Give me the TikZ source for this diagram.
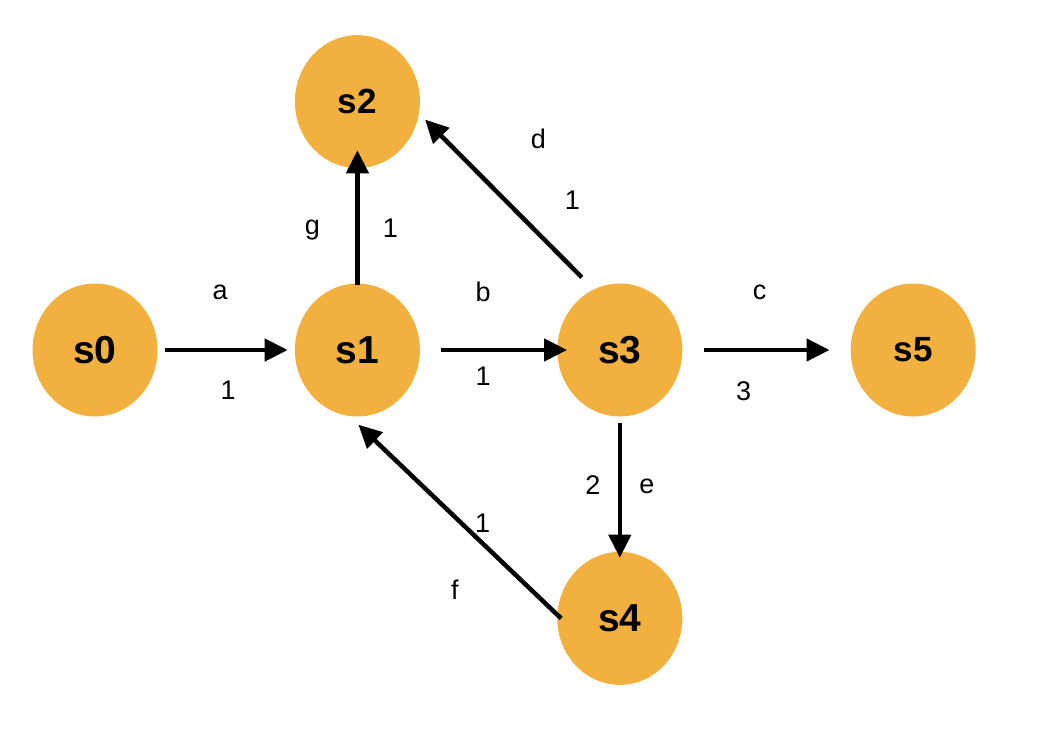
\documentclass[tikz,border=0pt]{standalone}
\usepackage{fontspec}
\setmainfont{Liberation Sans}
\usepackage{tikz}
\usetikzlibrary{shapes.geometric, arrows.meta, positioning, calc}
\definecolor{stOrange}{HTML}{F2B13F}
\tikzset{
  stnode/.style={ellipse, fill=stOrange, draw=none, inner sep=0pt,
                 minimum width=125pt, minimum height=133pt,
                 font=\fontsize{39}{43}\selectfont\bfseries},
  stsmall/.style={font=\fontsize{35}{39}\selectfont\bfseries},
  stflow/.style={-{Triangle[length=23pt, width=22pt]}, line width=4.5pt, color=black},
  stlabel/.style={font=\fontsize{27}{31}\selectfont, inner sep=0pt, anchor=center},
}
\begin{document}
\begin{tikzpicture}[x=1pt, y=-1pt, node distance=137pt]
  \useasboundingbox (0,0) rectangle (1038,750);
  \node[stnode](s0) at (95,350){s0};
  \node[stnode, right=of s0](s1){s1};
  \node[stnode, right=of s1](s3){s3};
  \node[stnode, stsmall, right=168pt of s3](s5){s5};
  \node[stnode, stsmall, above=115pt of s1](s2){s2};
  \node[stnode, below=135pt of s3](s4){s4};
  % transitions
  \draw[stflow]([xshift=7pt]s0.east)--
    node[stlabel, xshift=-6pt, yshift=58pt](la){a}
    node[stlabel, xshift=2pt, yshift=-40pt](wa){1}([xshift=-7pt]s1.west);
  \draw[stflow]([xshift=21pt]s1.east)--
    node[stlabel, xshift=-21pt, yshift=58pt](lb){b}
    node[stlabel, xshift=-21pt, yshift=-26pt](wb){1}([xshift=10pt]s3.west);
  \draw[stflow]([xshift=21pt]s3.east)--
    node[stlabel, xshift=-7pt, yshift=58pt](lc){c}
    node[stlabel, xshift=-23pt, yshift=-41pt](wc){3}([xshift=-21pt]s5.west);
  \draw[stflow]([yshift=-2pt]s1.north)--
    node[stlabel, xshift=-45pt, yshift=-12pt](lg){g}
    node[stlabel, xshift=33pt, yshift=-10pt](wg){1}([yshift=18pt]s2.south);
  \draw[stflow]($(s3.north)+(-38,-6)$)--
    node[stlabel, xshift=35pt, yshift=60pt](ld){d}
    node[stlabel, xshift=69pt, yshift=-2pt](wd){1}($(s2.east)+(5,18)$);
  \draw[stflow]([yshift=-6pt]s3.south)--
    node[stlabel, xshift=-27pt, yshift=5pt](we){2}
    node[stlabel, xshift=27pt, yshift=4pt](le){e}([yshift=-6pt]s4.north);
  \draw[stflow]($(s4.west)+(4,0)$)--
    node[stlabel, xshift=23pt, yshift=-2pt](wf){1}
    node[stlabel, xshift=-5pt, yshift=-68pt](lf){f}($(s1.south)+(1,8)$);
\end{tikzpicture}
\end{document}
